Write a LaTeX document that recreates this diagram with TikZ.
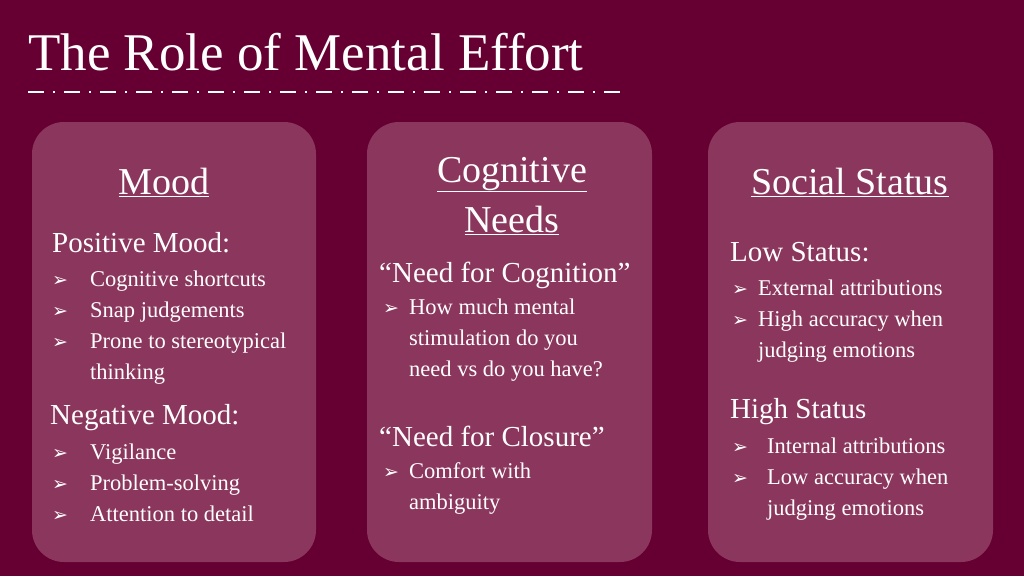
\documentclass[tikz,border=0pt]{standalone}
\usepackage{fontspec}
\setmainfont{Liberation Serif}
\newfontfamily\djsym{DejaVu Sans}
\definecolor{bg}{HTML}{660032}
\definecolor{boxc}{HTML}{8A365D}
\begin{document}
\begin{tikzpicture}[x=1pt,y=-1pt,
 card/.style={fill=boxc,rounded corners=32pt},
 txt/.style={anchor=base west,text=white,inner sep=0pt,font=\fontsize{22.5}{22}\selectfont},
 sub/.style={anchor=base west,text=white,inner sep=0pt,font=\fontsize{29}{29}\selectfont},
 head/.style={anchor=base,text=white,inner sep=0pt,font=\fontsize{38}{38}\selectfont}]
\fill[bg] (0,0) rectangle (1024,576);
\useasboundingbox (0,0) rectangle (1024,576);
\node[anchor=base west,text=white,inner sep=0pt,font=\fontsize{53}{53}\selectfont] (t) at (28,70) {The Role of Mental Effort};
\coordinate (l1) at (28,92); \coordinate (l2) at (625,92);
\draw[white,line width=2.2pt,dash pattern=on 16pt off 9pt on 2pt off 9pt] (l1) -- (l2);
\fill[card] (32,122) rectangle (316,562);
\fill[card] (367,122) rectangle (652,562);
\fill[card] (708,122) rectangle (993,562);
\newcommand{\bl}{{\djsym\fontsize{19}{19}\selectfont ➢}}
% box 1
\node[head] (h1) at (164,194) {\underline{Mood}};
\node[sub] (p1) at (52,252) {Positive Mood:};
\node[txt] at (52,286) {\bl}; \node[txt] at (90,286) {Cognitive shortcuts};
\node[txt] at (52,317) {\bl}; \node[txt] at (90,317) {Snap judgements};
\node[txt] at (52,348) {\bl}; \node[txt] at (90,348) {Prone to stereotypical};
\node[txt] at (90,379) {thinking};
\node[sub] (n1) at (50,424) {Negative Mood:};
\node[txt] at (52,459) {\bl}; \node[txt] at (90,459) {Vigilance};
\node[txt] at (52,490) {\bl}; \node[txt] at (90,490) {Problem-solving};
\node[txt] at (52,521) {\bl}; \node[txt] at (90,521) {Attention to detail};
% box 2
\node[head] (h2) at (512,182) {\underline{Cognitive}};
\node[head] at (512,232) {\underline{Needs}};
\node[sub] at (379,282) {“Need for Cognition”};
\node[txt] at (383,314) {\bl}; \node[txt] at (409,314) {How much mental};
\node[txt] at (409,345) {stimulation do you};
\node[txt] at (409,376) {need vs do you have?};
\node[sub] at (379,446) {“Need for Closure”};
\node[txt] at (383,478) {\bl}; \node[txt] at (409,478) {Comfort with};
\node[txt] at (409,509) {ambiguity};
% box 3
\node[head] (h3) at (850,194) {\underline{Social Status}};
\node[sub] at (730,261) {Low Status:};
\node[txt] at (732,295) {\bl}; \node[txt] at (758,295) {External attributions};
\node[txt] at (732,326) {\bl}; \node[txt] at (758,326) {High accuracy when};
\node[txt] at (758,357) {judging emotions};
\node[sub] at (730,418) {High Status};
\node[txt] at (732,453) {\bl}; \node[txt] at (767,453) {Internal attributions};
\node[txt] at (732,484) {\bl}; \node[txt] at (767,484) {Low accuracy when};
\node[txt] at (767,515) {judging emotions};
\end{tikzpicture}
\end{document}
